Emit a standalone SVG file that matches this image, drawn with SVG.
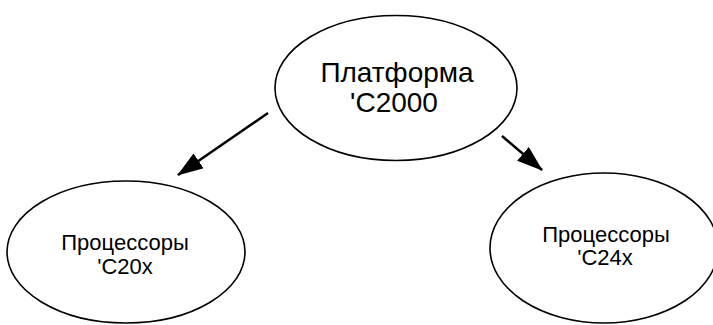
<svg xmlns="http://www.w3.org/2000/svg" width="713" height="325" viewBox="0 0 713 325">
<style>
.n{fill:#fff;stroke:#000;stroke-width:1.6}
.t{font-family:"Liberation Sans",Arial,sans-serif;fill:#000;text-anchor:middle}
.c{stroke:#000;stroke-width:2.5;fill:none}
</style>
<defs>
<marker id="ah" markerWidth="26" markerHeight="18" refX="25" refY="9" orient="auto" markerUnits="userSpaceOnUse" viewBox="0 0 26 18">
<path d="M0,0 L26,9 L0,18 Z" fill="#000"/>
</marker>
</defs>
<rect width="713" height="325" fill="#fff"/>
<g id="connectors">
<line class="c" x1="268" y1="113" x2="178" y2="175" marker-end="url(#ah)"/>
<line class="c" x1="502" y1="136" x2="542" y2="170" marker-end="url(#ah)"/>
</g>
<g id="platform">
<ellipse class="n" cx="396" cy="88" rx="121" ry="72.5"/>
<text class="t" x="397" y="82" font-size="28">Платформа</text>
<text class="t" x="394" y="112" font-size="28">'C2000</text>
</g>
<g id="c20x">
<ellipse class="n" cx="126" cy="252" rx="119" ry="71"/>
<text class="t" x="125" y="250" font-size="22">Процессоры</text>
<text class="t" x="125" y="274" font-size="22">'C20x</text>
</g>
<g id="c24x">
<ellipse class="n" cx="604" cy="248" rx="114" ry="75"/>
<text class="t" x="606" y="242" font-size="22">Процессоры</text>
<text class="t" x="605" y="265" font-size="22">'C24x</text>
</g>
</svg>
